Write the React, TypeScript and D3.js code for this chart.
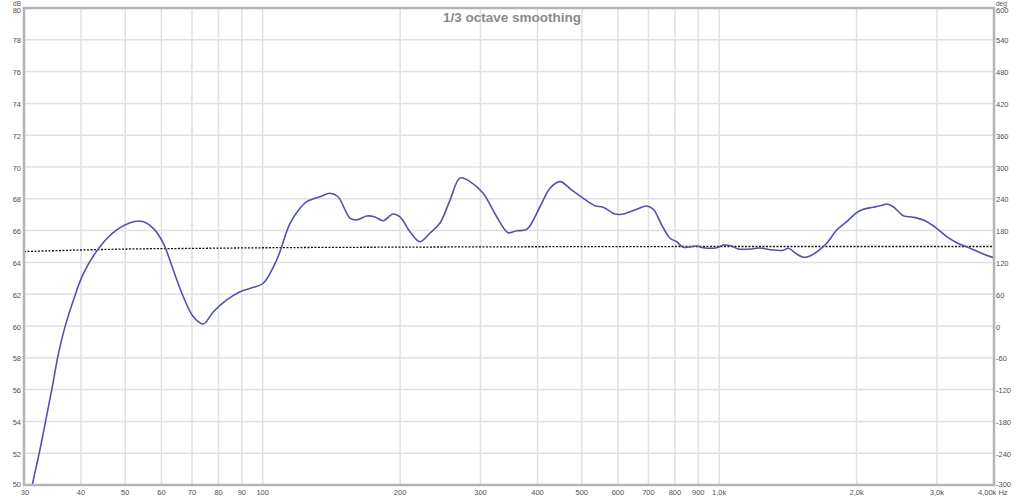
import React from 'react';
import * as d3 from 'd3';

const width = 1024;
const height = 497;
const margin = { top: 8, right: 30, bottom: 12, left: 24 };

// Smoothed response (Hz, dB)
const freqs = [
  30.6, 31.35, 32.5, 33.6, 34.5, 35.7, 36.9, 38.5, 40.5, 44.0, 47.9, 52.1, 54.8, 57.6, 60.6,
  63.7, 67.0, 70.5, 74.1, 78.0, 83.4, 89.2, 95.4, 100.3, 107.3, 114.8, 120.7, 124.9, 133.5,
  140.4, 146.2, 155.3, 160.7, 169, 176.2, 183.5, 193, 199.9, 210.2, 221.1, 232.6, 244.6,
  257.3, 270.6, 284.6, 303.8, 325.6, 344.7, 360.1, 378.8, 405, 426, 448, 475.3, 503.9,
  534.5, 557.4, 591.3, 611.7, 654.2, 694, 717.4, 748.5, 780.4, 807.2, 834.5, 893, 923,
  987.6, 1021, 1065, 1101, 1188, 1229, 1292, 1382, 1417, 1479, 1529, 1581, 1663, 1720,
  1809, 1903, 2001, 2069, 2176, 2289, 2328, 2407, 2531, 2662, 2824, 2996, 3151, 3314,
  3544, 3790, 3986,
];
const dbValues = [
  48.6, 50.14, 52.2, 54.3, 55.97, 58.28, 59.96, 61.64, 63.31, 64.99, 66.04, 66.56, 66.56,
  66.14, 65.2, 63.52, 61.84, 60.58, 60.13, 60.9, 61.64, 62.16, 62.43, 62.69, 64.15, 66.46,
  67.4, 67.82, 68.13, 68.35, 68.13, 66.79, 66.67, 66.92, 66.86, 66.62, 67.04, 66.86, 65.93,
  65.3, 65.85, 66.48, 67.92, 69.31, 69.08, 68.36, 66.87, 65.87, 65.99, 66.08, 67.5, 68.66,
  69.08, 68.55, 68.03, 67.57, 67.47, 67.04, 67.03, 67.3, 67.55, 67.34, 66.35, 65.52, 65.3,
  64.95, 65.03, 64.92, 64.92, 65.09, 65.03, 64.84, 64.86, 64.91, 64.8, 64.76, 64.89, 64.53,
  64.32, 64.4, 64.82, 65.2, 66.04, 66.56, 67.13, 67.34, 67.47, 67.61, 67.67, 67.5, 66.94,
  66.84, 66.62, 66.14, 65.62, 65.24, 64.89, 64.53, 64.3,
];

// Dotted reference trace
const refFreqs = [30, 40, 50, 70, 100, 200, 500, 1000, 4000];
const refDb = [64.68, 64.78, 64.84, 64.88, 64.92, 64.96, 64.99, 65.0, 65.0];

const xGrid = [40, 50, 60, 70, 80, 90, 100, 200, 300, 400, 500, 600, 700, 800, 900, 1000, 2000, 3000];
const xTicks = [30, 40, 50, 60, 70, 80, 90, 100, 200, 300, 400, 500, 600, 700, 800, 900, 1000, 2000, 3000];
const xTickLabels = ['30', '40', '50', '60', '70', '80', '90', '100', '200', '300', '400', '500', '600', '700', '800', '900', '1,0k', '2,0k', '3,0k'];
const dbTicks = d3.range(50, 81, 2);
const degTicks = d3.range(-300, 601, 60);

export default function App() {
  const x0 = margin.left;
  const x1 = width - margin.right;
  const y0 = margin.top;
  const y1 = height - margin.bottom;

  const x = d3.scaleLog().domain([30, 4000]).range([x0, x1]);
  const y = d3.scaleLinear().domain([50, 80]).range([y1, y0]);
  const yDeg = d3.scaleLinear().domain([-300, 600]).range([y1, y0]);

  const line = d3.line<number>()
    .x((_, i) => x(freqs[i]))
    .y((d) => y(d))
    .curve(d3.curveCatmullRom.alpha(0.5));

  const refLine = d3.line<number>()
    .x((_, i) => x(refFreqs[i]))
    .y((d) => y(d))
    .curve(d3.curveMonotoneX);

  const font = '"Liberation Sans", Arial, sans-serif';
  const fs = 7.5;
  const labelColor = '#505050';

  // nudge the outermost labels so they don't collide with the unit labels / x axis
  const tickY = (py: number, isTop: boolean, isBottom: boolean) =>
    isTop ? py + 5 : isBottom ? py + 2 : py + 3.5;

  return (
    <svg
      width={width}
      height={height}
      style={{ position: 'absolute', left: 0, top: 0, background: '#fff' }}
      fontFamily={font}
    >
      <defs>
        <clipPath id="plot-clip">
          <rect x={x0} y={y0} width={x1 - x0} height={y1 - y0} />
        </clipPath>
      </defs>

      {/* grid */}
      {dbTicks.slice(1, -1).map((t) => (
        <line key={`h${t}`} x1={x0} x2={x1} y1={y(t)} y2={y(t)} stroke="#e0e0e0" strokeWidth={1.5} />
      ))}
      {xGrid.map((f) => (
        <line key={`v${f}`} x1={x(f)} x2={x(f)} y1={y0} y2={y1} stroke="#e0e0e0" strokeWidth={1.5} />
      ))}

      {/* title */}
      <text x={512} y={22} textAnchor="middle" fontSize={13.5} fontWeight="bold" fill="#8a8a8a">
        1/3 octave smoothing
      </text>

      <g clipPath="url(#plot-clip)">
        <path
          d={refLine(refDb) ?? ''}
          fill="none"
          stroke="#111"
          strokeWidth={1.3}
          strokeDasharray="2,1.5"
        />
        <path
          d={line(dbValues) ?? ''}
          fill="none"
          stroke="#5252b0"
          strokeWidth={1.6}
          strokeLinejoin="round"
        />
      </g>

      {/* frame */}
      <rect x={x0} y={y0} width={x1 - x0} height={y1 - y0} fill="none" stroke="#b4b4b4" strokeWidth={2.5} />

      {/* left axis */}
      <text x={21} y={6} textAnchor="end" fontSize={6.5} fill={labelColor}>dB</text>
      {dbTicks.map((t) => (
        <text key={`l${t}`} x={21} y={tickY(y(t), t === 80, t === 50)} textAnchor="end" fontSize={fs} fill={labelColor}>
          {t}
        </text>
      ))}

      {/* right axis */}
      <text x={996} y={5.5} fontSize={6.5} fill={labelColor}>deg</text>
      {degTicks.map((t) => (
        <text key={`r${t}`} x={996} y={tickY(yDeg(t), t === 600, t === -300)} fontSize={fs} fill={labelColor}>
          {t}
        </text>
      ))}

      {/* bottom axis */}
      {xTicks.map((f, i) => (
        <text key={`b${f}`} x={x(f) + (i === 0 ? 1 : 0)} y={495} textAnchor="middle" fontSize={fs} fill={labelColor}>
          {xTickLabels[i]}
        </text>
      ))}
      <text x={978} y={495} fontSize={fs} fill={labelColor}>4,00k Hz</text>
    </svg>
  );
}
